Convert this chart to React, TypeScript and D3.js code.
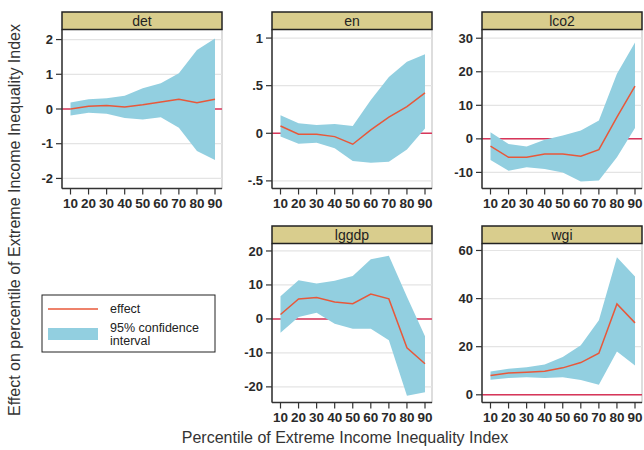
import React from "react";
import * as d3 from "d3";

const pct = [10, 20, 30, 40, 50, 60, 70, 80, 90];

const detEffect = [0.0, 0.08, 0.1, 0.06, 0.12, 0.2, 0.28, 0.18, 0.28];
const detLower = [-0.19, -0.11, -0.14, -0.26, -0.3, -0.24, -0.54, -1.21, -1.47];
const detUpper = [0.19, 0.28, 0.31, 0.38, 0.6, 0.74, 1.03, 1.7, 2.03];

const enEffect = [0.077, -0.01, -0.01, -0.035, -0.115, 0.035, 0.17, 0.28, 0.425];
const enLower = [-0.035, -0.11, -0.1, -0.157, -0.29, -0.31, -0.3, -0.17, 0.05];
const enUpper = [0.19, 0.105, 0.087, 0.098, 0.077, 0.35, 0.59, 0.75, 0.83];

const lco2Effect = [-2.2, -5.5, -5.5, -4.5, -4.5, -5.2, -3.2, 6.5, 15.7];
const lco2Lower = [-6.3, -9.5, -8.5, -9, -10, -12.7, -12.4, -5.5, 3.2];
const lco2Upper = [2, -1.5, -2.3, -0.3, 1, 2.5, 5.5, 19.4, 28.7];

const lggdpEffect = [1.3, 5.9, 6.3, 5, 4.5, 7.3, 5.9, -8.5, -13.2];
const lggdpLower = [-4.1, 0.6, 1.8, -1.4, -2.9, -2.9, -6.3, -22.6, -21.6];
const lggdpUpper = [6.7, 11.4, 10.4, 11.2, 12.6, 17.6, 18.6, 6.5, -5.1];

const wgiEffect = [8, 9.1, 9.4, 9.8, 11.2, 13.4, 17.3, 37.8, 29.9];
const wgiLower = [6.3, 7, 7.3, 7, 7.3, 6.2, 4.2, 18, 12.2];
const wgiUpper = [9.7, 10.8, 11.5, 12.6, 15.7, 20.6, 31, 57.2, 49.2];

const panels = [
  { name: "det", effect: detEffect, lower: detLower, upper: detUpper, domain: [-2.29, 2.29], ticks: [-2, -1, 0, 1, 2], labels: ["-2", "-1", "0", "1", "2"], col: 0, row: 0 },
  { name: "en", effect: enEffect, lower: enLower, upper: enUpper, domain: [-0.58, 1.09], ticks: [-0.5, 0, 0.5, 1], labels: ["-.5", "0", ".5", "1"], col: 1, row: 0 },
  { name: "lco2", effect: lco2Effect, lower: lco2Lower, upper: lco2Upper, domain: [-14.8, 32.6], ticks: [-10, 0, 10, 20, 30], labels: ["-10", "0", "10", "20", "30"], col: 2, row: 0 },
  { name: "lggdp", effect: lggdpEffect, lower: lggdpLower, upper: lggdpUpper, domain: [-24.6, 22.2], ticks: [-20, -10, 0, 10, 20], labels: ["-20", "-10", "0", "10", "20"], col: 1, row: 1 },
  { name: "wgi", effect: wgiEffect, lower: wgiLower, upper: wgiUpper, domain: [-3.2, 62.9], ticks: [0, 20, 40, 60], labels: ["0", "20", "40", "60"], col: 2, row: 1 },
];

const colX = [62, 272, 482];
const panelW = 160;
const rowTop = [12, 226];
const headH = 17.5;
const plotH = 159;

const font = "'Liberation Sans', Arial, sans-serif";
const blue = "#92cfe0";
const red = "#e8583a";
const zeroRed = "#d8365a";

function Panel({ p }: { p: typeof panels[number] }) {
  const left = colX[p.col];
  const right = left + panelW;
  const top = rowTop[p.row] + headH;
  const bottom = top + plotH;
  const x = d3.scaleLinear().domain([10, 90]).range([left + 8.5, right - 7]);
  const y = d3.scaleLinear().domain(p.domain).range([bottom, top]);
  const area = d3
    .area<number>()
    .x((d) => x(d))
    .y0((_, i) => y(p.lower[i]))
    .y1((_, i) => y(p.upper[i]));
  const line = d3
    .line<number>()
    .x((d) => x(d))
    .y((_, i) => y(p.effect[i]));
  return (
    <g>
      <rect x={left} y={top} width={panelW} height={plotH} fill="#fff" stroke="#bbb" strokeWidth={1} />
      {p.ticks.map((t) => (
        <line key={"g" + t} x1={left} x2={right} y1={y(t)} y2={y(t)} stroke="#e4e4e4" strokeWidth={1.2} />
      ))}
      <line x1={left} x2={right} y1={y(0)} y2={y(0)} stroke={zeroRed} strokeWidth={1.5} />
      <path d={area(pct) || ""} fill={blue} />
      <path d={line(pct) || ""} fill="none" stroke={red} strokeWidth={1.5} />
      <line x1={left} x2={left} y1={top} y2={bottom} stroke="#333" strokeWidth={1.5} />
      <line x1={left} x2={right} y1={bottom} y2={bottom} stroke="#333" strokeWidth={1.5} />
      {p.ticks.map((t, i) => (
        <g key={"t" + t}>
          <line x1={left - 6} x2={left} y1={y(t)} y2={y(t)} stroke="#333" strokeWidth={1.2} />
          <text x={left - 9} y={y(t)} dy="0.35em" textAnchor="end" fontFamily={font} fontSize={13} fontWeight="bold" fill="#2a2a2a">
            {p.labels[i]}
          </text>
        </g>
      ))}
      {pct.map((v) => (
        <g key={"x" + v}>
          <line x1={x(v)} x2={x(v)} y1={bottom} y2={bottom + 6} stroke="#333" strokeWidth={1.2} />
          <text x={x(v)} y={bottom + 19} textAnchor="middle" fontFamily={font} fontSize={13.5} fontWeight="bold" fill="#2a2a2a">
            {v}
          </text>
        </g>
      ))}
      <rect x={left} y={rowTop[p.row]} width={panelW} height={headH} fill="#d9cd8d" stroke="#222" strokeWidth={1.5} />
      <text x={(left + right) / 2} y={rowTop[p.row] + headH / 2} dy="0.36em" textAnchor="middle" fontFamily={font} fontSize={14} fill="#222">
        {p.name}
      </text>
    </g>
  );
}

export default function App() {
  return (
    <svg width={644} height={450} style={{ display: "block", position: "absolute", left: 0, top: 0, background: "#fff" }}>
      {panels.map((p) => (
        <Panel key={p.name} p={p} />
      ))}
      <g>
        <rect x={42} y={295} width={173} height={57} fill="#fff" stroke="#222" strokeWidth={1} />
        <line x1={48} x2={98} y1={309} y2={309} stroke={red} strokeWidth={1.5} />
        <text x={110} y={309} dy="0.35em" fontFamily={font} fontSize={12.5} fill="#222">effect</text>
        <rect x={48} y={328} width={50} height={12} fill={blue} />
        <text x={110} y={327.5} dy="0.35em" fontFamily={font} fontSize={12.5} fill="#222">95% confidence</text>
        <text x={110} y={340.5} dy="0.35em" fontFamily={font} fontSize={12.5} fill="#222">interval</text>
      </g>
      <text transform="translate(20,220) rotate(-90)" textAnchor="middle" fontFamily={font} fontSize={16} fill="#333">
        Effect on percentile of Extreme Income Inequality Index
      </text>
      <text x={345} y={443} textAnchor="middle" fontFamily={font} fontSize={16} fill="#333">
        Percentile of Extreme Income Inequality Index
      </text>
    </svg>
  );
}
